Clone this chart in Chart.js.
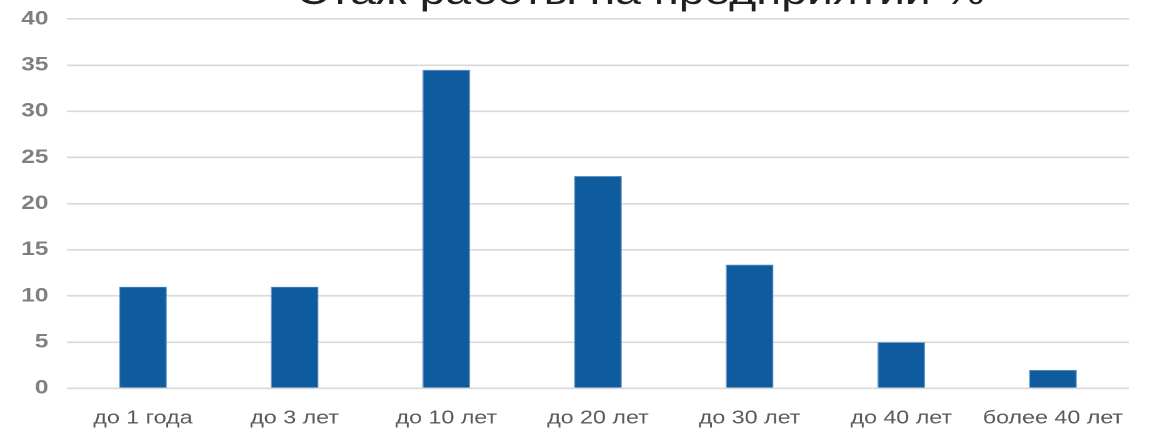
<!DOCTYPE html>
<html>
<head>
<meta charset="utf-8">
<script src="https://cdn.jsdelivr.net/npm/chart.js@4"></script>
<style>
  html, body { margin: 0; padding: 0; background: #fff; overflow: hidden; }
  #wrap { position: absolute; left: 0; top: 0; width: 924px; height: 431px; transform: scaleX(1.25); transform-origin: 0 0; }
  canvas { display: block; }
</style>
</head>
<body>
<div id="wrap"><canvas id="c" width="924" height="431"></canvas></div>
<script>
const titleText = 'Стаж работы на предприятии %';
const categories = ['до 1 года', 'до 3 лет', 'до 10 лет', 'до 20 лет', 'до 30 лет', 'до 40 лет', 'более 40 лет'];
const values = [11, 11, 34.5, 23, 13.4, 5, 2];
const yTicks = [0, 5, 10, 15, 20, 25, 30, 35, 40];

const FONT = "'Liberation Sans', Arial, sans-serif";

const cutTitle = {
  id: 'cutTitle',
  afterDraw(chart) {
    const ctx = chart.ctx;
    const a = chart.chartArea;
    ctx.save();
    ctx.font = '37px ' + FONT;
    ctx.fillStyle = '#1f1f1f';
    ctx.textAlign = 'center';
    ctx.textBaseline = 'alphabetic';
    ctx.fillText(titleText, (a.left + a.right) / 2 + 34, 4);
    ctx.restore();
  }
};

new Chart(document.getElementById('c'), {
  type: 'bar',
  data: {
    labels: categories,
    datasets: [{
      data: values,
      backgroundColor: '#0e5b9d',
      borderColor: '#5f93c8',
      borderWidth: 0.8,
      categoryPercentage: 0.5,
      barPercentage: 0.63
    }]
  },
  options: {
    responsive: false,
    animation: false,
    devicePixelRatio: 2,
    layout: { padding: { top: 19, left: 2, right: 21, bottom: 0 } },
    plugins: { legend: { display: false }, tooltip: { enabled: false }, title: { display: false } },
    scales: {
      x: {
        afterFit(scale) { scale.height = 42.7; scale.paddingLeft = 0; scale.paddingRight = 0; },
        grid: { display: false, drawTicks: false },
        border: { display: false },
        ticks: { color: '#595959', font: { family: FONT, size: 18.6 }, padding: 19, maxRotation: 0, autoSkip: false }
      },
      y: {
        min: 0, max: 40,
        afterFit(scale) { scale.paddingTop = 0; scale.paddingBottom = 0; },
        afterBuildTicks(scale) { scale.ticks = yTicks.map(v => ({ value: v })); },
        grid: { color: '#d9d9d9', lineWidth: 1.6, drawTicks: false },
        border: { display: false },
        ticks: { color: '#7f7f7f', font: { family: FONT, size: 19.5, weight: 'bold' }, padding: 15 }
      }
    }
  },
  plugins: [cutTitle]
});
</script>
</body>
</html>
